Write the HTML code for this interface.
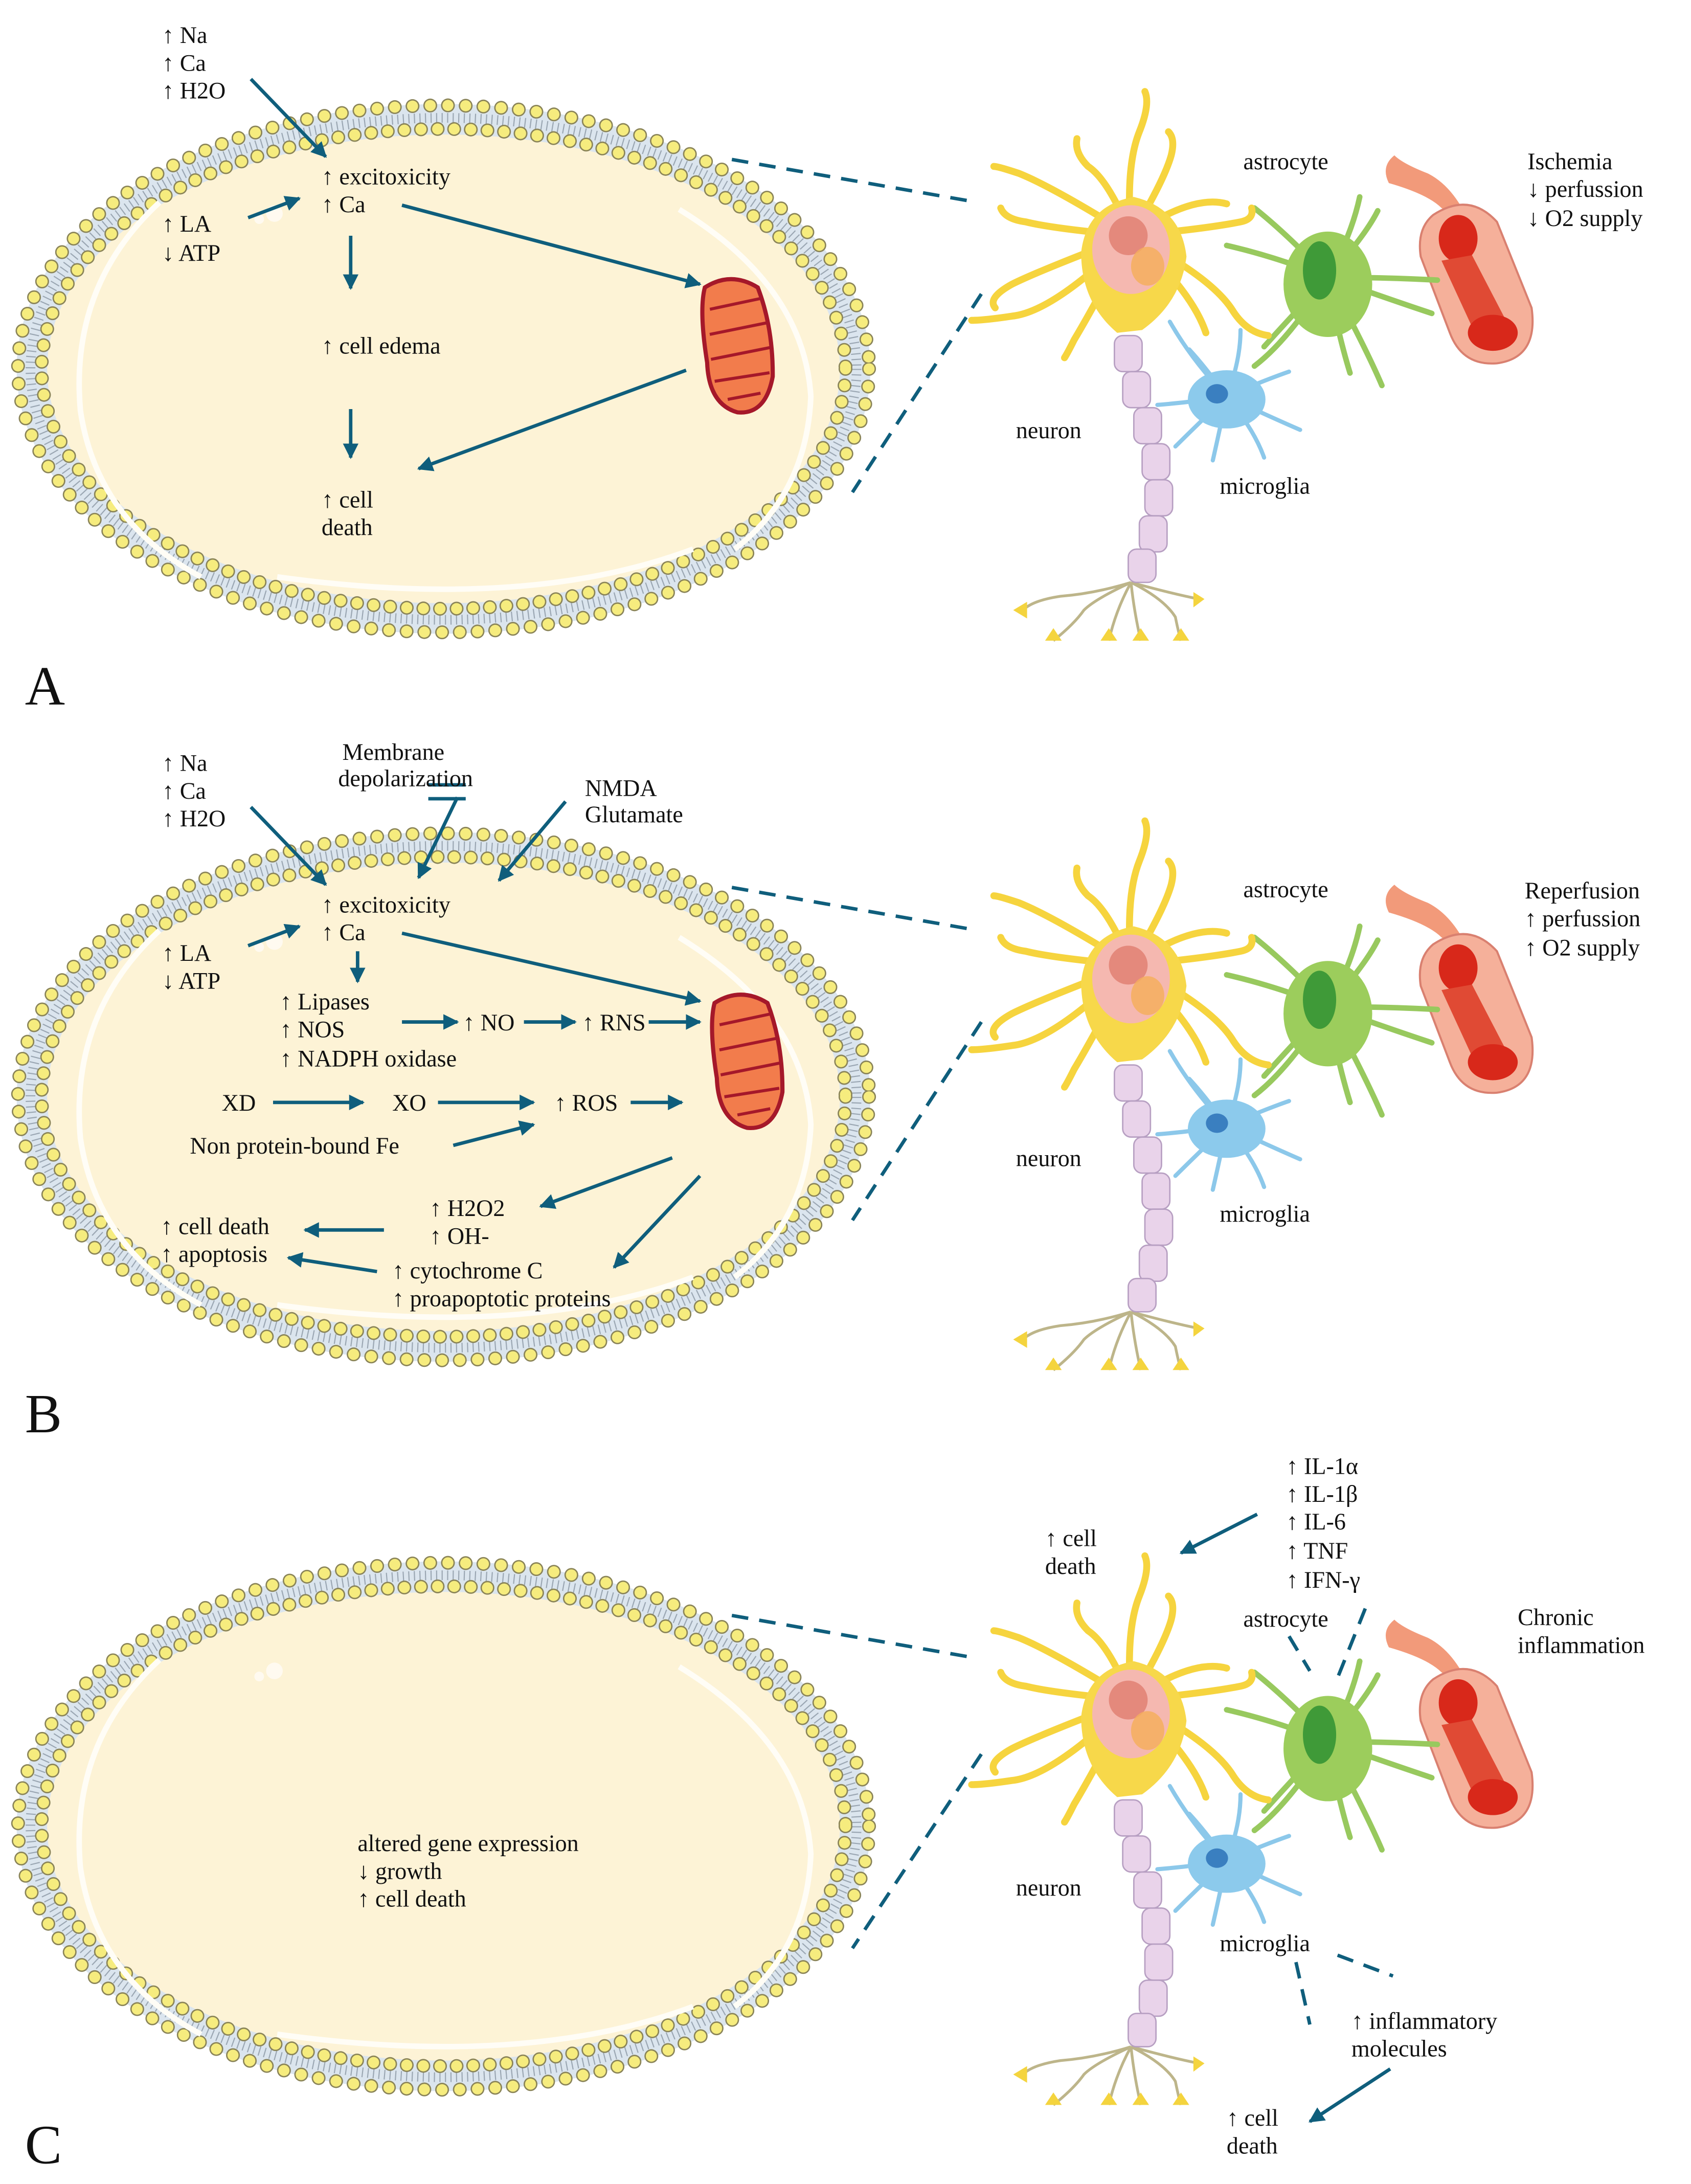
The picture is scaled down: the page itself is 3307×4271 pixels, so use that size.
<!DOCTYPE html>
<html><head><meta charset="utf-8"><style>
html,body{margin:0;padding:0;background:#fff}
svg{display:block}
text{font-family:"Liberation Serif",serif;font-size:17px;fill:#111}
</style></head><body>
<svg width="3307" height="4271" viewBox="0 0 1220 1575" preserveAspectRatio="none" xmlns="http://www.w3.org/2000/svg">
<defs>
<marker id="ah" viewBox="0 0 10 10" refX="9" refY="5" markerWidth="4.5" markerHeight="4.5" orient="auto"><path d="M0,0 L10,5 L0,10 z" fill="#0f5e7c"/></marker>
<g id="cell">
  <ellipse cx="0" cy="0" rx="308" ry="191" fill="#dbe5ee"/>
  <ellipse cx="0" cy="0" rx="298" ry="181" fill="none" stroke="#9aa6b2" stroke-width="7" stroke-dasharray="0.8 3.2"/>
  <ellipse cx="0" cy="0" rx="307" ry="190" fill="none" stroke="#8a8458" stroke-width="10" stroke-dasharray="0 12.8" stroke-linecap="round"/>
  <ellipse cx="0" cy="0" rx="307" ry="190" fill="none" stroke="#f6ec7e" stroke-width="8" stroke-dasharray="0 12.8" stroke-linecap="round"/>
  <ellipse cx="0" cy="0" rx="286" ry="169" fill="#fdf3d6"/>
  <ellipse cx="0" cy="0" rx="290" ry="173" fill="none" stroke="#8a8458" stroke-width="10" stroke-dasharray="0 12" stroke-linecap="round"/>
  <ellipse cx="0" cy="0" rx="290" ry="173" fill="none" stroke="#f6ec7e" stroke-width="8" stroke-dasharray="0 12" stroke-linecap="round"/>
  <path d="M-205,-120 Q-270,-60 -262,30 Q-250,110 -175,150" fill="none" stroke="#fffdf6" stroke-width="4"/>
  <path d="M-120,150 Q60,175 180,130" fill="none" stroke="#fffdf6" stroke-width="4"/>
  <path d="M170,-115 Q260,-60 265,20 Q262,90 210,130" fill="none" stroke="#fffdf6" stroke-width="4"/>
  <circle cx="-122" cy="-112" r="6" fill="#fffaf0"/><circle cx="-133" cy="-108" r="3.5" fill="#fffaf0"/>
</g>
<g id="mito">
  <path d="M-20,-44 Q0,-54 18,-40 Q26,-10 22,25 Q14,52 -6,48 Q-26,40 -24,10 Q-26,-28 -20,-44z" fill="#f27c4c" stroke="#a5182a" stroke-width="3"/>
  <path d="M-18,-28 L20,-32 M-20,-10 L22,-14 M-21,8 L22,4 M-20,24 L20,22 M-12,38 L12,36" fill="none" stroke="#a5182a" stroke-width="2.2"/>
</g>
<g id="neur">
  <!-- axon terminals -->
  <path d="M816,420 Q790,428 765,430 Q745,433 738,440 M816,420 Q790,432 782,440 Q775,450 760,462 M816,420 Q805,440 800,462 M816,420 Q818,440 823,462 M816,420 Q840,432 848,445 Q850,455 852,462 M816,420 Q845,428 865,432" fill="none" stroke="#bdb58a" stroke-width="2"/>
  <path d="M731,440 l10,-6 l0,12z M754,462 l6,-9 l6,9z M794,462 l6,-9 l6,9z M817,462 l6,-9 l6,9z M846,462 l6,-9 l6,9z M869,432 l-8,-5 l0,11z" fill="#f4d43e"/>
  <!-- axon -->
  <g fill="#e9d3ea" stroke="#b79fc2" stroke-width="1">
    <rect x="804" y="242" width="20" height="26" rx="6"/>
    <rect x="810" y="268" width="20" height="26" rx="6"/>
    <rect x="818" y="294" width="20" height="26" rx="6"/>
    <rect x="824" y="320" width="20" height="26" rx="6"/>
    <rect x="826" y="346" width="20" height="26" rx="6"/>
    <rect x="822" y="372" width="20" height="26" rx="6"/>
    <rect x="814" y="396" width="20" height="24" rx="6"/>
  </g>
  <!-- vessel -->
  <path d="M1006,112 Q996,120 1002,132 Q1030,140 1040,150 L1062,165 Q1050,135 1030,125 Q1012,118 1006,112z" fill="#f29a7a"/>
  <path d="M1034,155 Q1060,138 1080,160 L1105,222 Q1110,258 1080,262 Q1055,264 1046,240 L1025,185 Q1022,165 1034,155z" fill="#f5b09a" stroke="#d98070" stroke-width="1.5"/>
  <ellipse cx="1052" cy="172" rx="14" ry="17" fill="#d8281a"/>
  <path d="M1040,188 L1062,184 L1088,234 L1064,240z" fill="#e04a34"/>
  <ellipse cx="1077" cy="240" rx="18" ry="13" fill="#d8281a"/>
  <!-- astrocyte -->
  <g stroke="#98c95e" stroke-width="4" fill="none" stroke-linecap="round">
    <path d="M958,200 Q930,170 905,150 M958,200 Q975,170 981,142 M958,200 Q985,170 994,152 M958,200 Q1000,200 1037,202 M958,200 Q1000,215 1033,226 M958,200 Q985,250 997,278 M958,200 Q965,240 974,269 M958,200 Q930,245 905,264 M958,200 Q930,230 912,250 M958,200 Q920,185 885,177"/>
  </g>
  <ellipse cx="958" cy="205" rx="32" ry="38" fill="#9ccd5c"/>
  <ellipse cx="952" cy="195" rx="12" ry="21" fill="#3f9a38"/>
  <!-- microglia -->
  <g stroke="#8cc8ea" stroke-width="3" fill="none" stroke-linecap="round">
    <path d="M885,286 Q860,260 844,232 M885,286 Q895,260 895,238 M885,286 Q910,275 930,268 M885,286 Q915,300 938,310 M885,286 Q905,310 912,330 M885,286 Q880,310 875,332 M885,286 Q860,310 848,322 M885,286 Q860,290 835,292 M885,286 Q870,265 858,252"/>
  </g>
  <ellipse cx="885" cy="288" rx="28" ry="21" fill="#8ccaec"/>
  <ellipse cx="878" cy="284" rx="8" ry="7" fill="#3a7fc0"/>
  <!-- neuron dendrites -->
  <g stroke="#f6d43e" stroke-width="5" fill="none" stroke-linecap="round">
    <path d="M816,170 Q812,120 822,95 Q830,75 826,66"/>
    <path d="M816,170 Q840,130 845,112 Q848,100 843,95"/>
    <path d="M816,170 Q800,130 785,120 Q775,110 777,100"/>
    <path d="M816,170 Q760,135 735,125 Q720,120 717,120"/>
    <path d="M816,170 Q760,165 740,160 Q725,158 722,150"/>
    <path d="M816,170 Q750,195 730,205 Q712,215 718,222"/>
    <path d="M816,170 Q760,225 730,228 Q710,231 701,231"/>
    <path d="M816,170 Q790,220 775,245 Q770,255 768,258"/>
    <path d="M816,170 Q860,140 885,147"/>
    <path d="M816,170 Q870,165 895,160 Q905,158 903,150"/>
    <path d="M816,170 Q875,200 890,225 Q900,240 915,242"/>
    <path d="M816,170 Q860,210 870,240"/>
  </g>
  <path d="M818,142 Q852,150 856,185 Q852,218 824,238 L806,240 Q780,218 780,182 Q784,148 818,142z" fill="#f7d84a"/>
  <ellipse cx="816" cy="180" rx="28" ry="32" fill="#f5b8b0"/>
  <circle cx="814" cy="170" r="14" fill="#e4897c"/>
  <ellipse cx="828" cy="192" rx="12" ry="14" fill="#f5ae5e" opacity="0.85"/>
</g>
</defs>

<!-- Panel A -->
<use href="#cell" x="320" y="266"/>
<use href="#mito" transform="translate(533,249) rotate(-6)"/>
<g fill="none" stroke="#0f5e7c" stroke-width="2.5" marker-end="url(#ah)">
<path d="M181,57 L235,113"/><path d="M179,157 L216,143"/><path d="M253,170 L253,208"/><path d="M253,295 L253,330"/>
<path d="M290,148 L505,205"/><path d="M495,267 L302,338"/>
</g>
<g stroke="#0f5e7c" stroke-width="2.5" stroke-dasharray="12 8" fill="none">
<path d="M528,115 L700,145"/><path d="M708,212 L615,355"/>
</g>
<text x="117" y="31">↑ Na</text><text x="117" y="51">↑ Ca</text><text x="117" y="71">↑ H2O</text>
<text x="232" y="133">↑ excitoxicity</text><text x="232" y="153">↑ Ca</text>
<text x="117" y="167">↑ LA</text><text x="117" y="188">↓ ATP</text>
<text x="232" y="255">↑ cell edema</text>
<text x="232" y="366">↑ cell</text><text x="232" y="386">death</text>
<text x="18" y="508" style="font-size:40px">A</text>
<use href="#neur"/>
<text x="897" y="122">astrocyte</text>
<text x="1102" y="122">Ischemia</text><text x="1102" y="142">↓ perfussion</text><text x="1102" y="163">↓ O2 supply</text>
<text x="733" y="316">neuron</text><text x="880" y="356">microglia</text>

<!-- Panel B -->
<use href="#cell" x="320" y="791"/>
<use href="#mito" transform="translate(540,765) rotate(-6)"/>
<g fill="none" stroke="#0f5e7c" stroke-width="2.5" marker-end="url(#ah)">
<path d="M181,582 L235,638"/><path d="M330,575 L302,633"/><path d="M408,578 L360,635"/>
<path d="M179,682 L216,668"/><path d="M258,686 L258,708"/><path d="M290,673 L505,722"/>
<path d="M290,737 L330,737"/><path d="M378,737 L415,737"/><path d="M468,737 L505,737"/>
<path d="M197,795 L262,795"/><path d="M316,795 L385,795"/><path d="M455,795 L492,795"/>
<path d="M327,826 L385,811"/><path d="M485,835 L390,870"/><path d="M505,848 L443,914"/>
<path d="M277,887 L220,887"/><path d="M272,917 L208,907"/>
</g>
<path d="M309,566 L336,566 M309,576 L336,576" stroke="#0f5e7c" stroke-width="2.5"/>
<g stroke="#0f5e7c" stroke-width="2.5" stroke-dasharray="12 8" fill="none">
<path d="M528,640 L700,670"/><path d="M708,737 L615,880"/>
</g>
<text x="117" y="556">↑ Na</text><text x="117" y="576">↑ Ca</text><text x="117" y="596">↑ H2O</text>
<text x="247" y="548">Membrane</text><text x="244" y="567">depolarization</text>
<text x="422" y="574">NMDA</text><text x="422" y="593">Glutamate</text>
<text x="232" y="658">↑ excitoxicity</text><text x="232" y="678">↑ Ca</text>
<text x="117" y="693">↑ LA</text><text x="117" y="713">↓ ATP</text>
<text x="202" y="728">↑ Lipases</text><text x="202" y="748">↑ NOS</text><text x="202" y="769">↑ NADPH oxidase</text>
<text x="334" y="743">↑ NO</text><text x="420" y="743">↑ RNS</text>
<text x="160" y="801">XD</text><text x="283" y="801">XO</text><text x="400" y="801">↑ ROS</text>
<text x="137" y="832">Non protein-bound Fe</text>
<text x="310" y="877">↑ H2O2</text><text x="310" y="897">↑ OH-</text>
<text x="116" y="890">↑ cell death</text><text x="116" y="910">↑ apoptosis</text>
<text x="283" y="922">↑ cytochrome C</text><text x="283" y="942">↑ proapoptotic proteins</text>
<text x="18" y="1033" style="font-size:40px">B</text>
<use href="#neur" y="526"/>
<text x="897" y="647">astrocyte</text>
<text x="1100" y="648">Reperfusion</text><text x="1100" y="668">↑ perfussion</text><text x="1100" y="689">↑ O2 supply</text>
<text x="733" y="841">neuron</text><text x="880" y="881">microglia</text>

<!-- Panel C -->
<use href="#cell" x="320" y="1317"/>
<g stroke="#0f5e7c" stroke-width="2.5" stroke-dasharray="12 8" fill="none">
<path d="M528,1165 L700,1195"/><path d="M708,1265 L615,1405"/>
<path d="M930,1180 L945,1205"/><path d="M985,1160 L965,1210"/>
<path d="M935,1415 L945,1460"/><path d="M965,1410 L1005,1425"/>
</g>
<g fill="none" stroke="#0f5e7c" stroke-width="2.5" marker-end="url(#ah)">
<path d="M907,1092 L852,1120"/><path d="M1003,1492 L945,1530"/>
</g>
<text x="258" y="1335">altered gene expression</text><text x="258" y="1355">↓ growth</text><text x="258" y="1375">↑ cell death</text>
<text x="18" y="1560" style="font-size:40px">C</text>
<use href="#neur" y="1056"/>
<text x="754" y="1115">↑ cell</text><text x="754" y="1135">death</text>
<text x="928" y="1063">↑ IL-1α</text><text x="928" y="1083">↑ IL-1β</text><text x="928" y="1103">↑ IL-6</text><text x="928" y="1124">↑ TNF</text><text x="928" y="1145">↑ IFN-γ</text>
<text x="897" y="1173">astrocyte</text>
<text x="1095" y="1172">Chronic</text><text x="1095" y="1192">inflammation</text>
<text x="733" y="1367">neuron</text><text x="880" y="1407">microglia</text>
<text x="975" y="1463">↑ inflammatory</text><text x="975" y="1483">molecules</text>
<text x="885" y="1533">↑ cell</text><text x="885" y="1553">death</text>
</svg>
</body></html>
